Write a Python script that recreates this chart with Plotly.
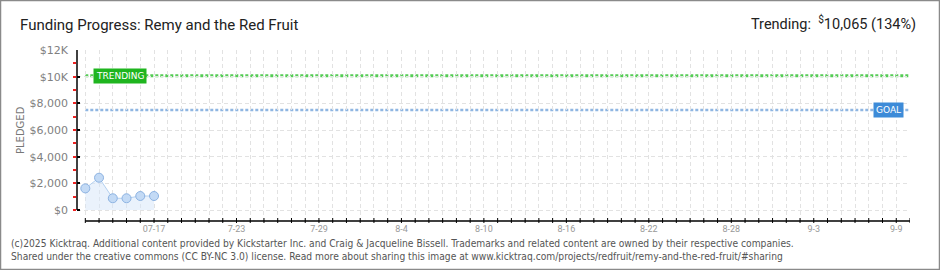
import plotly.graph_objects as go
from datetime import date, datetime, timedelta

# ---- data ----
dates = ["2025-07-12", "2025-07-13", "2025-07-14", "2025-07-15", "2025-07-16", "2025-07-17"]
pledged = [1620, 2420, 880, 880, 1050, 1050]
goal = 7500
trending = 10065
trend_pct = 134
y_tickvals = [0, 2000, 4000, 6000, 8000, 10000, 12000]
y_ticktext = ["$0", "$2,000", "$4,000", "$6,000", "$8,000", "$10K", "$12K"]
x_start = "2025-07-12"
x_end = "2025-09-10"
x_label_dates = ["2025-07-17", "2025-07-23", "2025-07-29", "2025-08-04", "2025-08-10",
                 "2025-08-16", "2025-08-22", "2025-08-28", "2025-09-03", "2025-09-09"]
x_label_text = ["07-17", "7-23", "7-29", "8-4", "8-10", "8-16", "8-22", "8-28", "9-3", "9-9"]
title = "Funding Progress: Remy and the Red Fruit"
footer1 = ("(c)2025 Kicktraq. Additional content provided by Kickstarter Inc. and Craig &amp; Jacqueline Bissell. "
           "Trademarks and related content are owned by their respective companies.")
footer2 = ("Shared under the creative commons (CC BY-NC 3.0) license. Read more about sharing this image at "
           "www.kicktraq.com/projects/redfruit/remy-and-the-red-fruit/#sharing")

# ---- layout geometry ----
W, H = 940, 270
L, R, T, B = 77, 30, 50, 49
PW, PH = W - L - R, H - T - B
Y_MAX = 12000
units_per_px = Y_MAX / 160.0
y_min = -(H - B - 210) * units_per_px


def px_x(px):
    return (px - L) / PW


def px_y(py):
    return (H - B - py) / PH


d0 = date.fromisoformat(x_start)
d1 = date.fromisoformat(x_end)
all_days = [(d0 + timedelta(days=i)).isoformat() for i in range((d1 - d0).days + 1)]
day_px = 13.75
range_start = (datetime.fromisoformat(x_start) - timedelta(days=8.3 / day_px)).isoformat()

fig = go.Figure()
fig.add_trace(go.Scatter(
    x=dates, y=pledged, mode="lines+markers", fill="tozeroy",
    fillcolor="rgba(214,230,250,0.5)",
    line=dict(color="#b3d0f0", width=1),
    marker=dict(size=9, color="#c3daf5", line=dict(color="#8db3e2", width=1)),
    hoverinfo="skip", showlegend=False,
))

shapes = []
# trending and goal lines
shapes.append(dict(type="line", xref="x", yref="y", x0=x_start, x1=x_end, y0=trending, y1=trending,
                   line=dict(color="#55cc55", width=3, dash="3px,2px"), layer="below"))
shapes.append(dict(type="line", xref="x", yref="y", x0=x_start, x1=x_end, y0=goal, y1=goal,
                   line=dict(color="#8fb6e2", width=2.5, dash="3px,2px"), layer="below"))
# y axis line
shapes.append(dict(type="line", xref="paper", yref="y", x0=0, x1=0, y0=0, y1=Y_MAX,
                   line=dict(color="#000000", width=1.5)))
# x axis line
shapes.append(dict(type="line", xref="x", yref="paper", x0=x_start, x1=x_end, y0=0, y1=0,
                   line=dict(color="#000000", width=1.5)))
# daily x ticks crossing the axis line
for d in all_days:
    shapes.append(dict(type="line", xref="x", yref="paper", x0=d, x1=d, y0=-2 / PH, y1=3 / PH,
                       line=dict(color="#000000", width=1)))
# outer border
shapes.append(dict(type="rect", xref="paper", yref="paper",
                   x0=px_x(0.5), x1=px_x(W - 0.5), y0=px_y(H - 0.5), y1=px_y(0.5),
                   line=dict(color="#8a8a8a", width=1.5), fillcolor="rgba(0,0,0,0)"))

footer_font = dict(family="DejaVu Sans Condensed, Liberation Sans", size=10.2, color="#555555")
annotations = [
    dict(text="TRENDING", xref="paper", yref="y", x=px_x(93), y=trending, xanchor="left", yanchor="middle",
         showarrow=False, bgcolor="#1fb51f", borderpad=2,
         font=dict(family="DejaVu Sans", size=9, color="white")),
    dict(text="GOAL", xref="paper", yref="y", x=px_x(904), y=goal, xanchor="right", yanchor="middle",
         showarrow=False, bgcolor="#3d8bd8", borderpad=2,
         font=dict(family="DejaVu Sans", size=9, color="white")),
    dict(text="PLEDGED", xref="paper", yref="paper", x=px_x(20), y=px_y(130), textangle=-90,
         xanchor="center", yanchor="middle",
         showarrow=False, font=dict(family="DejaVu Sans", size=10, color="#777777")),
    dict(text=f"Trending:  <sup>$</sup>{trending:,} ({trend_pct}%)", xref="paper", yref="paper",
         x=px_x(918), y=px_y(23), xanchor="right", yanchor="middle", showarrow=False,
         font=dict(family="Roboto", size=14.5, color="#222222")),
    dict(text=footer1, xref="paper", yref="paper", x=px_x(9), y=px_y(243), xanchor="left",
         yanchor="middle", showarrow=False, font=footer_font),
    dict(text=footer2, xref="paper", yref="paper", x=px_x(9), y=px_y(256), xanchor="left",
         yanchor="middle", showarrow=False, font=footer_font),
]

fig.update_layout(
    width=W, height=H,
    margin=dict(l=L, r=R, t=T, b=B, pad=0),
    paper_bgcolor="white", plot_bgcolor="white",
    title=dict(text=title, xref="container", yref="container", x=20 / W, y=1 - 25 / H,
               xanchor="left", yanchor="middle",
               font=dict(family="Roboto", size=15, color="#222222")),
    xaxis=dict(type="date", range=[range_start, x_end], tickvals=x_label_dates, ticktext=x_label_text,
               ticks="", tickangle=0,
               showgrid=False, showline=False, zeroline=False,
               minor=dict(tickvals=all_days, ticks="", showgrid=True, gridcolor="#e2e2e2",
                          griddash="4px,3px", gridwidth=1),
               tickfont=dict(family="Liberation Sans Narrow, Roboto", size=9, color="#999999"),
               ticklabelstandoff=1),
    yaxis=dict(range=[y_min, Y_MAX], tickvals=y_tickvals, ticktext=y_ticktext,
               ticks="inside", ticklen=3, tickcolor="#000000", tickwidth=1.5,
               minor=dict(tick0=0, dtick=1000, ticks="outside", ticklen=3, tickcolor="#ee2222",
                          tickwidth=1.5, showgrid=False),
               showgrid=True, gridcolor="#e2e2e2", griddash="4px,3px", gridwidth=1,
               showline=False, zeroline=False,
               tickfont=dict(family="DejaVu Sans", size=11, color="#808080"),
               ticklabelstandoff=8),
    shapes=shapes, annotations=annotations, showlegend=False,
)

fig.write_html("out.html")
